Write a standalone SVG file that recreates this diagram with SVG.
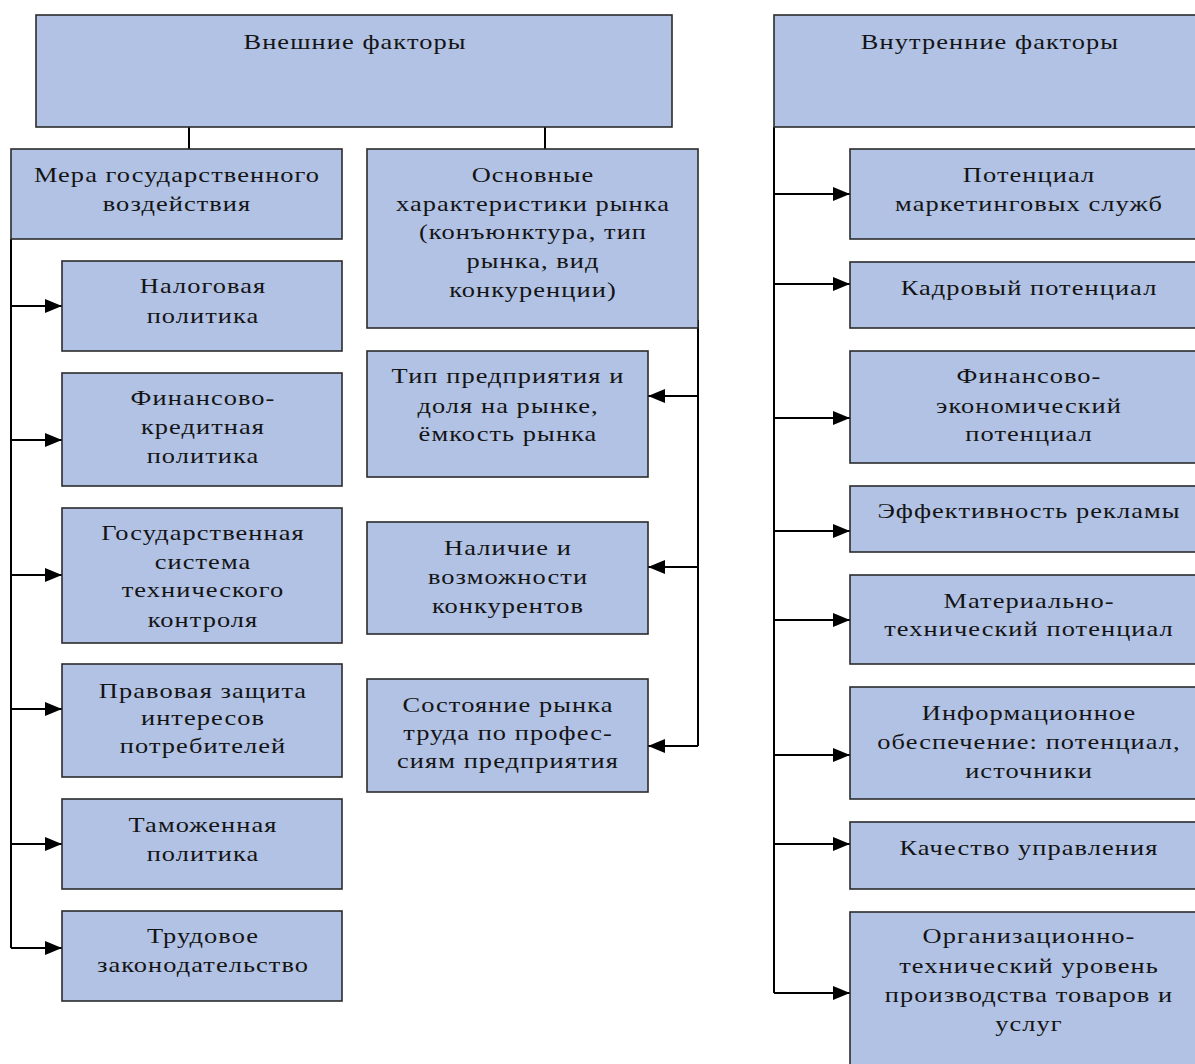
<svg xmlns="http://www.w3.org/2000/svg" width="1195" height="1064" viewBox="0 0 1195 1064">
<style>
.box{fill:#b1c2e5;stroke:#2b2b2b;stroke-width:1.6}
.t{font-family:"Liberation Serif","Times New Roman",serif;font-size:22px;letter-spacing:0.9px;fill:#141414;text-anchor:middle}
.c{fill:none;stroke:#000;stroke-width:2}
</style>
<defs>
<marker id="ah" markerUnits="userSpaceOnUse" markerWidth="17" markerHeight="14" refX="17" refY="7" orient="auto">
<path d="M0,0 L17,7 L0,14 z" fill="#000"/>
</marker>
</defs>
<rect width="1195" height="1064" fill="#fff"/>
<g id="connectors">
<path class="c" d="M189,127 V149"/>
<path class="c" d="M545,127 V149"/>
<path class="c" d="M11,239 V948"/>
<path class="c" marker-end="url(#ah)" d="M11,306 H62"/>
<path class="c" marker-end="url(#ah)" d="M11,440 H62"/>
<path class="c" marker-end="url(#ah)" d="M11,575 H62"/>
<path class="c" marker-end="url(#ah)" d="M11,709 H62"/>
<path class="c" marker-end="url(#ah)" d="M11,844 H62"/>
<path class="c" marker-end="url(#ah)" d="M11,948 H62"/>
<path class="c" d="M698,320 V746"/>
<path class="c" marker-end="url(#ah)" d="M698,396 H648"/>
<path class="c" marker-end="url(#ah)" d="M698,567 H648"/>
<path class="c" marker-end="url(#ah)" d="M698,746 H648"/>
<path class="c" d="M774,127 V993"/>
<path class="c" marker-end="url(#ah)" d="M774,194 H850"/>
<path class="c" marker-end="url(#ah)" d="M774,284 H850"/>
<path class="c" marker-end="url(#ah)" d="M774,418 H850"/>
<path class="c" marker-end="url(#ah)" d="M774,531 H850"/>
<path class="c" marker-end="url(#ah)" d="M774,620 H850"/>
<path class="c" marker-end="url(#ah)" d="M774,755 H850"/>
<path class="c" marker-end="url(#ah)" d="M774,844 H850"/>
<path class="c" marker-end="url(#ah)" d="M774,993 H850"/>
</g>
<g id="external">
<rect class="box" x="36" y="15" width="636" height="112"/>
<g transform="translate(355,0) scale(1.2,1)"><text class="t" x="0" y="49">Внешние факторы</text></g>
</g>
<g id="gov">
<rect class="box" x="11" y="149" width="331" height="90"/>
<g transform="translate(177,0) scale(1.2,1)">
<text class="t" x="0" y="182">Мера государственного</text>
<text class="t" x="0" y="211">воздействия</text>
</g>
</g>
<g id="tax">
<rect class="box" x="62" y="261" width="280" height="90"/>
<g transform="translate(203,0) scale(1.2,1)">
<text class="t" x="0" y="293">Налоговая</text>
<text class="t" x="0" y="323">политика</text>
</g>
</g>
<g id="fincredit">
<rect class="box" x="62" y="373" width="280" height="113"/>
<g transform="translate(203,0) scale(1.2,1)">
<text class="t" x="0" y="405">Финансово-</text>
<text class="t" x="0" y="434">кредитная</text>
<text class="t" x="0" y="463">политика</text>
</g>
</g>
<g id="techcontrol">
<rect class="box" x="62" y="508" width="280" height="135"/>
<g transform="translate(203,0) scale(1.2,1)">
<text class="t" x="0" y="540">Государственная</text>
<text class="t" x="0" y="569">система</text>
<text class="t" x="0" y="597">технического</text>
<text class="t" x="0" y="627">контроля</text>
</g>
</g>
<g id="consumer">
<rect class="box" x="62" y="664" width="280" height="113"/>
<g transform="translate(203,0) scale(1.2,1)">
<text class="t" x="0" y="698">Правовая защита</text>
<text class="t" x="0" y="725">интересов</text>
<text class="t" x="0" y="753">потребителей</text>
</g>
</g>
<g id="customs">
<rect class="box" x="62" y="799" width="280" height="90"/>
<g transform="translate(203,0) scale(1.2,1)">
<text class="t" x="0" y="832">Таможенная</text>
<text class="t" x="0" y="861">политика</text>
</g>
</g>
<g id="labourlaw">
<rect class="box" x="62" y="911" width="280" height="90"/>
<g transform="translate(203,0) scale(1.2,1)">
<text class="t" x="0" y="943">Трудовое</text>
<text class="t" x="0" y="972">законодательство</text>
</g>
</g>
<g id="market">
<rect class="box" x="367" y="149" width="331" height="179"/>
<g transform="translate(533,0) scale(1.2,1)">
<text class="t" x="0" y="182">Основные</text>
<text class="t" x="0" y="211">характеристики рынка</text>
<text class="t" x="0" y="239">(конъюнктура, тип</text>
<text class="t" x="0" y="268">рынка, вид</text>
<text class="t" x="0" y="297">конкуренции)</text>
</g>
</g>
<g id="enterprise">
<rect class="box" x="367" y="351" width="281" height="126"/>
<g transform="translate(508,0) scale(1.2,1)">
<text class="t" x="0" y="383">Тип предприятия и</text>
<text class="t" x="0" y="413">доля на рынке,</text>
<text class="t" x="0" y="441">ёмкость рынка</text>
</g>
</g>
<g id="competitors">
<rect class="box" x="367" y="522" width="281" height="112"/>
<g transform="translate(508,0) scale(1.2,1)">
<text class="t" x="0" y="555">Наличие и</text>
<text class="t" x="0" y="584">возможности</text>
<text class="t" x="0" y="613">конкурентов</text>
</g>
</g>
<g id="labourmarket">
<rect class="box" x="367" y="679" width="281" height="113"/>
<g transform="translate(508,0) scale(1.2,1)">
<text class="t" x="0" y="712">Состояние рынка</text>
<text class="t" x="0" y="740">труда по профес-</text>
<text class="t" x="0" y="768">сиям предприятия</text>
</g>
</g>
<g id="internal">
<rect class="box" x="774" y="15" width="432" height="112"/>
<g transform="translate(990,0) scale(1.2,1)"><text class="t" x="0" y="49">Внутренние факторы</text></g>
</g>
<g id="marketing">
<rect class="box" x="850" y="149" width="356" height="90"/>
<g transform="translate(1029,0) scale(1.2,1)">
<text class="t" x="0" y="182">Потенциал</text>
<text class="t" x="0" y="211">маркетинговых служб</text>
</g>
</g>
<g id="staff">
<rect class="box" x="850" y="262" width="356" height="66"/>
<g transform="translate(1029,0) scale(1.2,1)"><text class="t" x="0" y="295">Кадровый потенциал</text></g>
</g>
<g id="fineco">
<rect class="box" x="850" y="351" width="356" height="112"/>
<g transform="translate(1029,0) scale(1.2,1)">
<text class="t" x="0" y="383">Финансово-</text>
<text class="t" x="0" y="413">экономический</text>
<text class="t" x="0" y="441">потенциал</text>
</g>
</g>
<g id="ads">
<rect class="box" x="850" y="486" width="356" height="66"/>
<g transform="translate(1029,0) scale(1.2,1)"><text class="t" x="0" y="518">Эффективность рекламы</text></g>
</g>
<g id="material">
<rect class="box" x="850" y="575" width="356" height="89"/>
<g transform="translate(1029,0) scale(1.2,1)">
<text class="t" x="0" y="608">Материально-</text>
<text class="t" x="0" y="636">технический потенциал</text>
</g>
</g>
<g id="info">
<rect class="box" x="850" y="687" width="356" height="112"/>
<g transform="translate(1029,0) scale(1.2,1)">
<text class="t" x="0" y="720">Информационное</text>
<text class="t" x="0" y="749">обеспечение: потенциал,</text>
<text class="t" x="0" y="778">источники</text>
</g>
</g>
<g id="management">
<rect class="box" x="850" y="822" width="356" height="67"/>
<g transform="translate(1029,0) scale(1.2,1)"><text class="t" x="0" y="855">Качество управления</text></g>
</g>
<g id="orgtech">
<rect class="box" x="850" y="912" width="356" height="160"/>
<g transform="translate(1029,0) scale(1.2,1)">
<text class="t" x="0" y="943">Организационно-</text>
<text class="t" x="0" y="973">технический уровень</text>
<text class="t" x="0" y="1002">производства товаров и</text>
<text class="t" x="0" y="1031">услуг</text>
</g>
</g>
</svg>
